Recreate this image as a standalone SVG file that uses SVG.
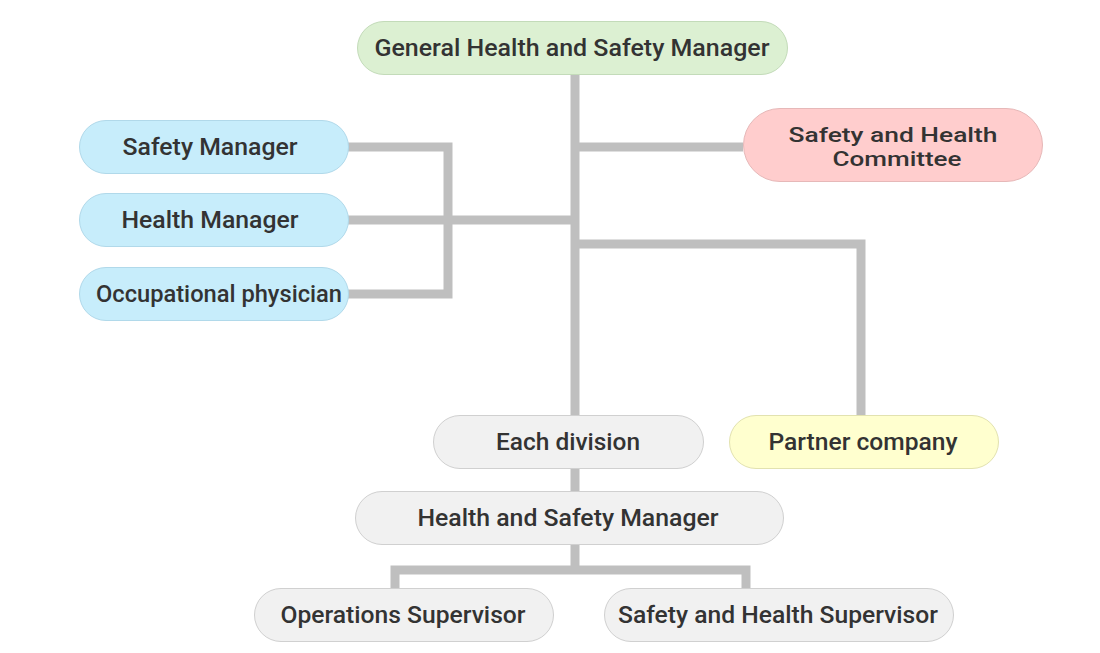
<svg xmlns="http://www.w3.org/2000/svg" width="1100" height="653" viewBox="0 0 1100 653">
<style>
.n{stroke-width:1}
.g{fill:#dcf0d2;stroke:#c3dbb9}
.b{fill:#c7edfb;stroke:#b1d9ea}
.p{fill:#ffcdcd;stroke:#e6b8b8}
.y{fill:#ffffcf;stroke:#e2e2b0}
.w{fill:#f1f1f1;stroke:#d0d0d0}
text{font-family:Roboto,"Noto Sans","Liberation Sans",sans-serif;font-weight:500;font-size:23px;fill:#333;text-anchor:middle}
.s{font-size:20px}
.c{fill:none;stroke:#bfbfbf;stroke-width:9}
</style>
<g id="connectors">
<path class="c" d="M575 75V415"/>
<path class="c" d="M575 147H743"/>
<path class="c" d="M348 220H575"/>
<path class="c" d="M348 147H448V294H348"/>
<path class="c" d="M575 244H861V415"/>
<path class="c" d="M575 468V491"/>
<path class="c" d="M575 544V570"/>
<path class="c" d="M395 588V570H746V588"/>
</g>
<g id="n1"><rect class="n g" x="357.5" y="21.5" width="430" height="53" rx="26.5"/><text x="572" y="56" textLength="395" lengthAdjust="spacingAndGlyphs">General Health and Safety Manager</text></g>
<g id="n2"><rect class="n b" x="79.5" y="120.5" width="269" height="53" rx="26.5"/><text x="210" y="155" textLength="175" lengthAdjust="spacingAndGlyphs">Safety Manager</text></g>
<g id="n3"><rect class="n b" x="79.5" y="193.5" width="269" height="53" rx="26.5"/><text x="210" y="228" textLength="177" lengthAdjust="spacingAndGlyphs">Health Manager</text></g>
<g id="n4"><rect class="n b" x="79.5" y="267.5" width="269" height="53" rx="26.5"/><text x="219" y="302" textLength="246" lengthAdjust="spacingAndGlyphs">Occupational physician</text></g>
<g id="n5"><rect class="n p" x="743.5" y="108.5" width="299" height="73" rx="36.5"/><text class="s" x="893" y="142" textLength="209" lengthAdjust="spacingAndGlyphs">Safety and Health</text><text class="s" x="897" y="166" textLength="129" lengthAdjust="spacingAndGlyphs">Committee</text></g>
<g id="n6"><rect class="n w" x="433.5" y="415.5" width="270" height="53" rx="26.5"/><text x="568" y="450" textLength="144" lengthAdjust="spacingAndGlyphs">Each division</text></g>
<g id="n7"><rect class="n y" x="729.5" y="415.5" width="269" height="53" rx="26.5"/><text x="863" y="450" textLength="189" lengthAdjust="spacingAndGlyphs">Partner company</text></g>
<g id="n8"><rect class="n w" x="355.5" y="491.5" width="428" height="53" rx="26.5"/><text x="568" y="526" textLength="301" lengthAdjust="spacingAndGlyphs">Health and Safety Manager</text></g>
<g id="n9"><rect class="n w" x="254.5" y="588.5" width="299" height="53" rx="26.5"/><text x="403" y="623" textLength="245" lengthAdjust="spacingAndGlyphs">Operations Supervisor</text></g>
<g id="n10"><rect class="n w" x="604.5" y="588.5" width="349" height="53" rx="26.5"/><text x="778" y="623" textLength="320" lengthAdjust="spacingAndGlyphs">Safety and Health Supervisor</text></g>
</svg>
